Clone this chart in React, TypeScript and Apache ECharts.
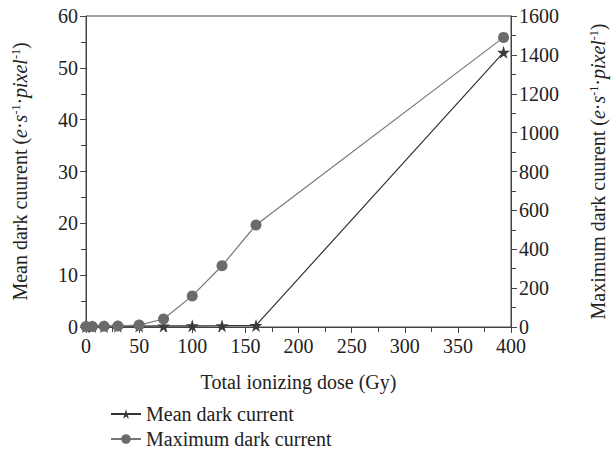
import React, { useEffect, useRef } from "react";
import * as echarts from "echarts";

const doses = [0, 6, 17, 30, 50, 73, 100, 128, 160, 393];
const meanDark = [0.1, 0.1, 0.12, 0.15, 0.18, 0.2, 0.22, 0.25, 0.3, 53];
const maxDark = [2, 3, 4, 5, 10, 41, 160, 315, 525, 1490];
const seriesNames = ["Mean dark current", "Maximum dark current"];

const STAR = "path://M50,0 L61,35 L98,35 L68,57 L79,91 L50,70 L21,91 L32,57 L2,35 L39,35 Z";
const FONT = "Liberation Serif";
const FS = 20;

export default function App() {
  const ref = useRef<HTMLDivElement>(null);
  useEffect(() => {
    if (!ref.current) return;
    const chart = echarts.init(ref.current, null, { renderer: "svg" });
    const axisColor = "#444";
    const textColor = "#222";
    const rich = {
      n: { fontFamily: FONT, fontSize: FS, color: textColor },
      i: { fontFamily: FONT, fontSize: FS, color: textColor, fontStyle: "italic" },
      sup: { fontFamily: FONT, fontSize: 12, color: textColor, verticalAlign: "top", lineHeight: 14 },
    };
    const nameOf = (pre: string) =>
      `{n|${pre} (}{i|e}{n|·}{i|s}{sup|-1}{n|·}{i|pixel}{sup|-1}{n|)}`;
    const yCommon = {
      type: "value",
      nameLocation: "middle",
      nameRotate: 90,
      axisLine: { show: true, lineStyle: { color: axisColor, width: 1 } },
      axisTick: { show: true, inside: false, length: 6, lineStyle: { color: axisColor } },
      minorTick: { show: true, splitNumber: 2, length: 5, lineStyle: { color: axisColor } },
      splitLine: { show: false },
      axisLabel: {
        fontFamily: FONT,
        fontSize: FS,
        color: textColor,
        margin: 8,
        lineHeight: 18,
        formatter: (v: number) => String(v),
      },
    };
    chart.setOption({
      animation: false,
      grid: {
        left: 86,
        right: 105,
        top: 16,
        bottom: 128,
        show: true,
        borderColor: axisColor,
        borderWidth: 1,
      },
      legend: {
        orient: "vertical",
        left: 105,
        top: 399,
        height: 54,
        itemWidth: 30,
        itemHeight: 12,
        itemGap: 5,
        data: seriesNames,
        textStyle: { fontFamily: FONT, fontSize: FS, color: textColor, lineHeight: 20 },
      },
      xAxis: {
        type: "value",
        min: 0,
        max: 400,
        interval: 50,
        name: "Total ionizing dose (Gy)",
        nameLocation: "middle",
        nameGap: 45,
        nameTextStyle: { fontFamily: FONT, fontSize: FS, color: textColor },
        axisLine: { show: true, onZero: false, lineStyle: { color: axisColor, width: 1 } },
        axisTick: { show: true, inside: false, length: 6, lineStyle: { color: axisColor } },
        minorTick: { show: true, splitNumber: 2, length: 5, lineStyle: { color: axisColor } },
        splitLine: { show: false },
        axisLabel: { fontFamily: FONT, fontSize: FS, color: textColor, margin: 10, lineHeight: 18 },
      },
      yAxis: [
        {
          ...yCommon,
          position: "left",
          min: 0,
          max: 60,
          interval: 10,
          name: nameOf("Mean dark cuurent"),
          nameGap: 56,
          nameTextStyle: { rich },
        },
        {
          ...yCommon,
          position: "right",
          min: 0,
          max: 1600,
          interval: 200,
          name: nameOf("Maximum dark cuurent"),
          nameGap: 77,
          nameTextStyle: { rich },
        },
      ],
      series: [
        {
          name: seriesNames[0],
          type: "line",
          yAxisIndex: 0,
          data: doses.map((d, k) => [d, meanDark[k]]),
          symbol: STAR,
          symbolSize: 13,
          showAllSymbol: true,
          lineStyle: { color: "#333", width: 1.2 },
          itemStyle: { color: "#3c3c3c" },
          z: 2,
        },
        {
          name: seriesNames[1],
          type: "line",
          yAxisIndex: 1,
          data: doses.map((d, k) => [d, maxDark[k]]),
          symbol: "circle",
          symbolSize: 11,
          showAllSymbol: true,
          lineStyle: { color: "#777", width: 1.2 },
          itemStyle: { color: "#6b6b6b" },
          z: 3,
        },
      ],
    });
    return () => chart.dispose();
  }, []);
  return (
    <div
      ref={ref}
      style={{ position: "absolute", left: 0, top: 0, width: 616, height: 455 }}
    />
  );
}
